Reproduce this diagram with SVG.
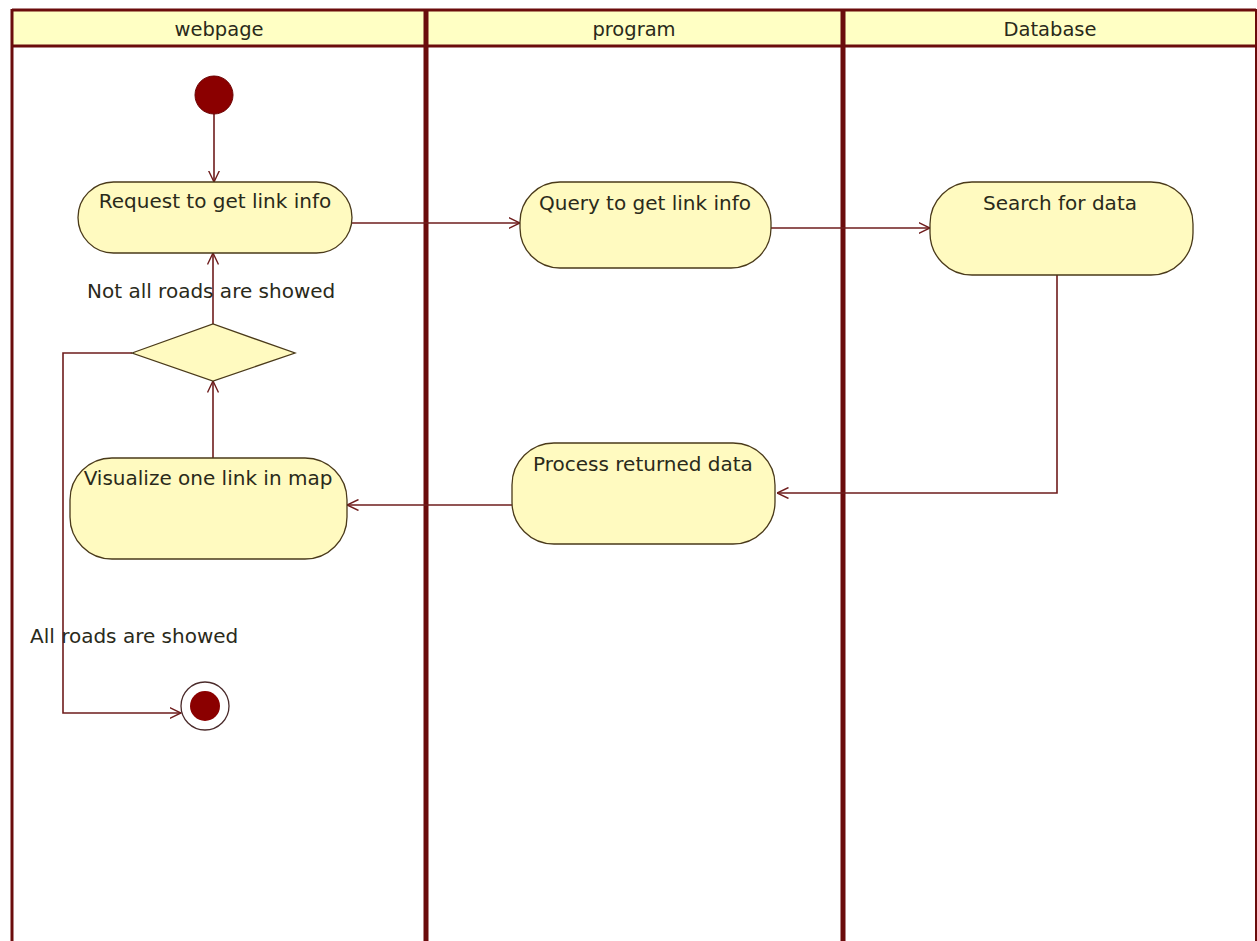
<svg xmlns="http://www.w3.org/2000/svg" width="1257" height="941" viewBox="0 0 1257 941">
<style>
.lane{fill:none;stroke:#6b0c0c}
.hdr{fill:#ffffc4;stroke:none}
.node{fill:#fffac0;stroke:#4a3a1a;stroke-width:1.3}
.t{font-family:"DejaVu Sans",Verdana,sans-serif;font-size:20px;fill:#2a2a1a}
.h{font-family:"DejaVu Sans",Verdana,sans-serif;font-size:19.5px;fill:#2a2a1a}
.c{fill:none;stroke:#6e1c1c;stroke-width:1.6}
</style>
<defs>
<marker id="arr" viewBox="0 0 12 12" refX="11.5" refY="6" markerWidth="12" markerHeight="12" markerUnits="userSpaceOnUse" orient="auto">
<path d="M0,0.5 L11.5,6 L0,11.5" fill="none" stroke="#6e1c1c" stroke-width="1.4"/>
</marker>
</defs>
<rect width="1257" height="941" fill="#ffffff"/>
<g id="lanes">
<rect class="hdr" x="12" y="10" width="1244" height="36"/>
<line class="lane" x1="12" y1="10" x2="1256" y2="10" stroke-width="3"/>
<line class="lane" x1="12" y1="46" x2="1256" y2="46" stroke-width="3"/>
<line class="lane" x1="12" y1="9" x2="12" y2="941" stroke-width="3"/>
<line class="lane" x1="1256" y1="9" x2="1256" y2="941" stroke-width="2"/>
<line class="lane" x1="426" y1="9" x2="426" y2="941" stroke-width="5"/>
<line class="lane" x1="843" y1="9" x2="843" y2="941" stroke-width="5"/>
<text class="h" x="219" y="36" text-anchor="middle">webpage</text>
<text class="h" x="634" y="36" text-anchor="middle">program</text>
<text class="h" x="1050" y="36" text-anchor="middle">Database</text>
</g>
<g id="connectors">
<line class="c" x1="214" y1="114" x2="214" y2="182" marker-end="url(#arr)"/>
<line class="c" x1="352" y1="223" x2="520" y2="223" marker-end="url(#arr)"/>
<line class="c" x1="771" y1="228" x2="930" y2="228" marker-end="url(#arr)"/>
<polyline class="c" points="1057,275 1057,493 777,493" marker-end="url(#arr)"/>
<line class="c" x1="512" y1="505" x2="347" y2="505" marker-end="url(#arr)"/>
<line class="c" x1="213" y1="458" x2="213" y2="381" marker-end="url(#arr)"/>
<line class="c" x1="213" y1="324" x2="213" y2="253" marker-end="url(#arr)"/>
<polyline class="c" points="132,353 63,353 63,713 181,713" marker-end="url(#arr)"/>
<text class="t" x="87" y="298">Not all roads are showed</text>
<text class="t" x="30" y="643">All roads are showed</text>
</g>
<g id="start">
<circle cx="214" cy="95" r="19" fill="#8b0000" stroke="#6b0000" stroke-width="1"/>
</g>
<g id="request">
<rect class="node" x="78" y="182" width="274" height="71" rx="35.5" ry="35.5"/>
<text class="t" x="215" y="208" text-anchor="middle">Request to get link info</text>
</g>
<g id="query">
<rect class="node" x="520" y="182" width="251" height="86" rx="40" ry="40"/>
<text class="t" x="645" y="210" text-anchor="middle">Query to get link info</text>
</g>
<g id="search">
<rect class="node" x="930" y="182" width="263" height="93" rx="42" ry="42"/>
<text class="t" x="1060" y="210" text-anchor="middle">Search for data</text>
</g>
<g id="process">
<rect class="node" x="512" y="443" width="263" height="101" rx="42" ry="42"/>
<text class="t" x="643" y="471" text-anchor="middle">Process returned data</text>
</g>
<g id="decision">
<polygon class="node" points="132,353 213,324 295,353 213,381"/>
</g>
<g id="visualize">
<rect class="node" x="70" y="458" width="277" height="101" rx="42" ry="42"/>
<text class="t" x="208" y="485" text-anchor="middle">Visualize one link in map</text>
</g>
<g id="end">
<circle cx="205" cy="706" r="24" fill="#ffffff" stroke="#4a2a2a" stroke-width="1.3"/>
<circle cx="205" cy="706" r="15" fill="#8b0000"/>
</g>
</svg>
